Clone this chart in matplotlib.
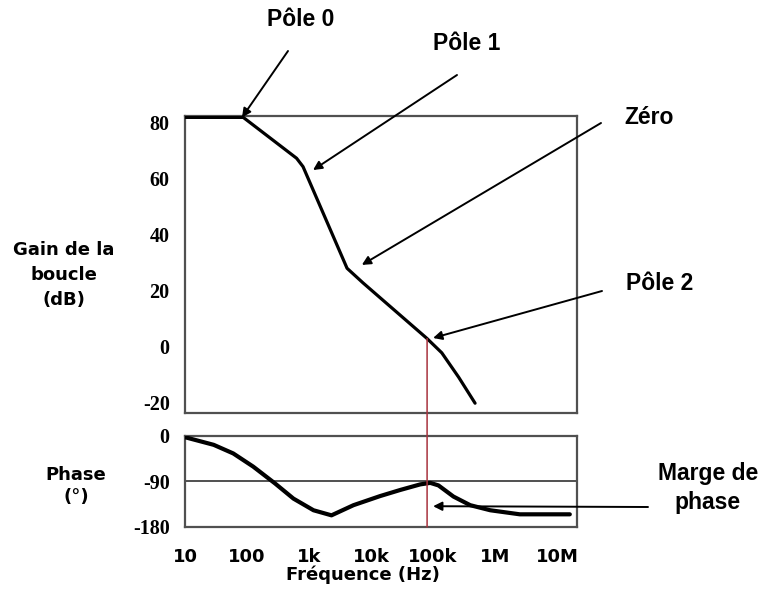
import numpy as np
import matplotlib
matplotlib.use("Agg")
import matplotlib.pyplot as plt
from matplotlib.patches import ConnectionPatch

# ---- data ----
gain_freq = [10, 87, 630, 800, 4100, 7400, 79000, 138000, 258000, 475000]
gain_db = [82, 82, 67.4, 64.4, 28.1, 22.9, 3.1, -2.1, -10.8, -20.1]

phase_freq = [10, 29, 60, 126, 282, 560, 1180, 2300, 5200, 14000, 29500,
              62000, 90000, 122000, 213000, 397000, 835000, 2500000, 16000000]
phase_deg = [-3, -18, -35, -61, -94, -124, -147, -157, -137, -119, -107,
             -96, -93, -98, -120, -137, -147, -155, -155]

x_ticks = [10, 100, 1e3, 1e4, 1e5, 1e6, 1e7]
x_tick_labels = ["10", "100", "1k", "10k", "100k", "1M", "10M"]
gain_ticks = [80, 60, 40, 20, 0, -20]
phase_ticks = [0, -90, -180]
crossover_freq = 80000

W, H = 763, 608
fig = plt.figure(figsize=(W / 100, H / 100), dpi=100)
fig.patch.set_facecolor("white")

def fx(px):
    return px / W

def fy(py):
    return 1 - py / H

ax_g = fig.add_axes([fx(185), fy(413), fx(577) - fx(185), fy(116) - fy(413)])
ax_p = fig.add_axes([fx(185), fy(527), fx(577) - fx(185), fy(435.7) - fy(527)])

xlim = (10, 10 ** 7.32)
frame_col = "#505050"
serif = {"family": "Liberation Serif", "weight": "bold", "size": 14.5}
sans = {"family": "DejaVu Sans", "weight": "bold", "size": 13}

for ax in (ax_g, ax_p):
    ax.set_xscale("log")
    ax.set_xlim(*xlim)
    for s in ax.spines.values():
        s.set_color(frame_col)
        s.set_linewidth(1.6)
    ax.tick_params(length=0)
    ax.minorticks_off()

# Gain panel
ax_g.plot(gain_freq, gain_db, color="black", lw=2.3, solid_capstyle="round", zorder=3)
ax_g.set_ylim(-23.6, 82.5)
ax_g.set_yticks(gain_ticks)
ax_g.set_yticklabels([str(t) for t in gain_ticks], fontdict=serif)
ax_g.tick_params(axis="y", pad=11)
ax_g.set_xticks(x_ticks)
ax_g.set_xticklabels([])
ax_g.minorticks_off()

# Phase panel
ax_p.plot(phase_freq, phase_deg, color="black", lw=3.0, solid_capstyle="round", zorder=3)
ax_p.axhline(-90, color=frame_col, lw=1.4, zorder=1)
ax_p.set_ylim(-180, 0)
ax_p.set_yticks(phase_ticks)
ax_p.set_yticklabels([str(t) for t in phase_ticks], fontdict=serif)
ax_p.tick_params(axis="y", pad=11)
ax_p.set_xticks(x_ticks)
ax_p.set_xticklabels(x_tick_labels, fontdict=sans)
ax_p.tick_params(axis="x", pad=15)
ax_p.minorticks_off()

# crossover line spanning both panels
g_at_fc = np.interp(np.log10(crossover_freq), np.log10(gain_freq), gain_db)
con = ConnectionPatch(xyA=(crossover_freq, g_at_fc), coordsA=ax_g.transData,
                      xyB=(crossover_freq, -180), coordsB=ax_p.transData,
                      color="#a8323e", lw=1.1, zorder=5)
fig.add_artist(con)

# axis labels
lab = dict(family="DejaVu Sans", weight="bold", size=13, ha="center", va="center")
fig.text(fx(64), fy(275), "Gain de la\nboucle\n(dB)", linespacing=1.5, **lab)
fig.text(fx(76), fy(486), "Phase\n(°)", linespacing=1.25, **lab)
fig.text(fx(363), fy(575), "Fréquence (Hz)", **lab)

# annotations
ann = dict(family="Liberation Sans", weight="bold", size=16.5, ha="center", va="center")
arrow = dict(arrowstyle="-|>", color="black", lw=1.4, mutation_scale=13,
             shrinkA=0, shrinkB=0)

fig.text(fx(301), fy(20), "Pôle 0", **ann)
ax_g.annotate("", xy=(83, 82), xycoords="data",
              xytext=(fx(288), fy(51)), textcoords="figure fraction",
              arrowprops=arrow, annotation_clip=False)

fig.text(fx(467), fy(44), "Pôle 1", **ann)
ax_g.annotate("", xy=(1160, 63.2), xycoords="data",
              xytext=(fx(457), fy(75)), textcoords="figure fraction",
              arrowprops=arrow, annotation_clip=False)

fig.text(fx(649), fy(118), "Zéro", **ann)
ax_g.annotate("", xy=(7100, 29.3), xycoords="data",
              xytext=(fx(601), fy(123)), textcoords="figure fraction",
              arrowprops=arrow, annotation_clip=False)

fig.text(fx(660), fy(284), "Pôle 2", **ann)
ax_g.annotate("", xy=(100000, 3.2), xycoords="data",
              xytext=(fx(602), fy(291)), textcoords="figure fraction",
              arrowprops=arrow, annotation_clip=False)

fig.text(fx(708), fy(488), "Marge de\nphase", linespacing=1.3, **ann)
ax_p.annotate("", xy=(100000, -139), xycoords="data",
              xytext=(fx(648), fy(507)), textcoords="figure fraction",
              arrowprops=arrow, annotation_clip=False)

fig.savefig("out.png", dpi=100, facecolor="white")
